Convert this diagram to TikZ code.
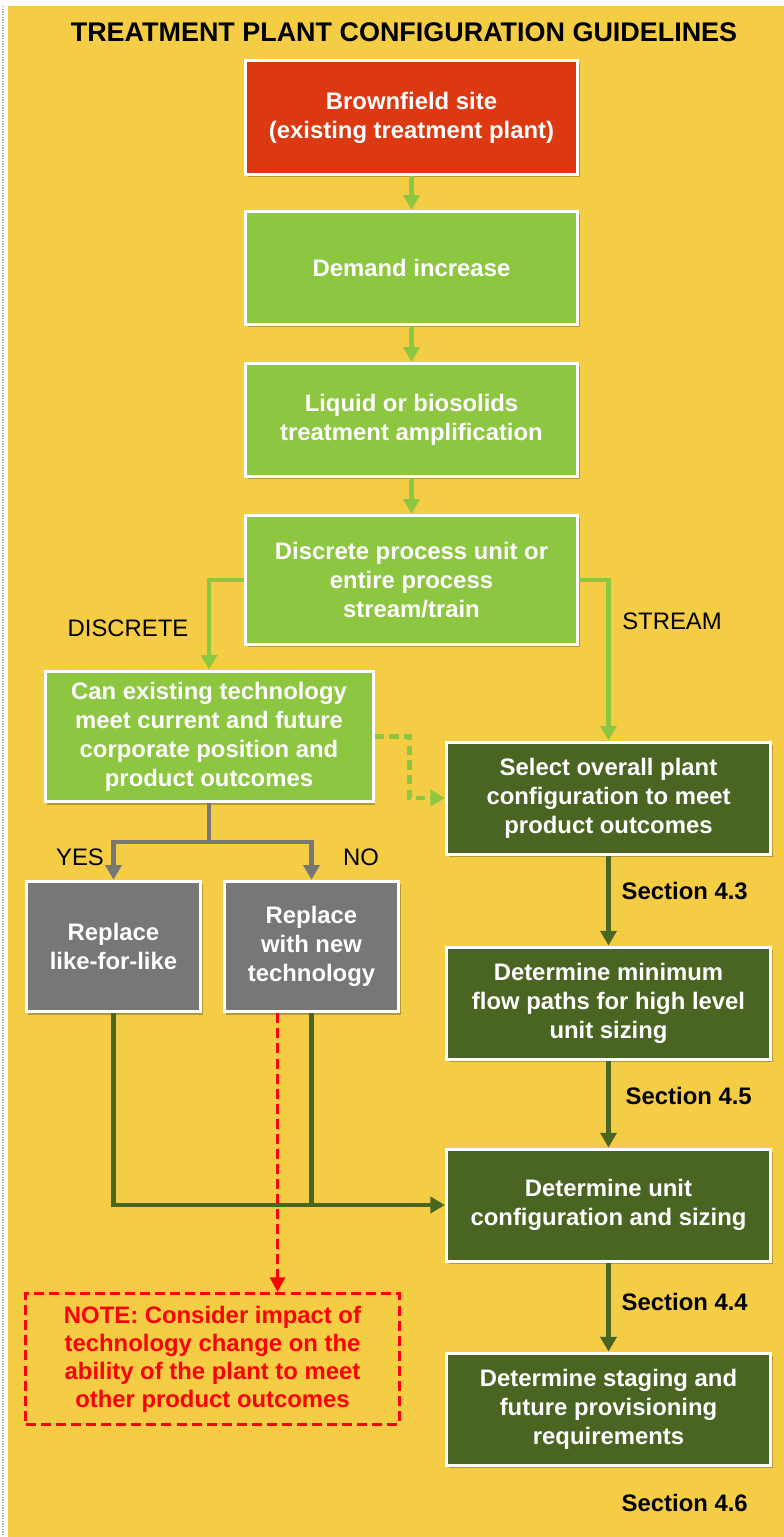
\documentclass[tikz,border=0pt]{standalone}
\usepackage{fontspec}
\setmainfont{Liberation Sans}
\usepackage{tikz}
\usetikzlibrary{calc}
\usetikzlibrary{shadows}
\usetikzlibrary{arrows.meta}
\usepackage{xcolor}
\definecolor{myYellow}{HTML}{F5CD45}
\definecolor{myRed}{HTML}{DC3812}
\definecolor{myGreen}{HTML}{8DC641}
\definecolor{myDarkGreen}{HTML}{4A6422}
\definecolor{myGrey}{HTML}{777777}
\definecolor{myShadow}{HTML}{6B5A1E}
\definecolor{myNote}{HTML}{FF0000}

\tikzset{
  box/.style={
    rectangle, draw=white, line width=2.25pt, text=white, align=center,
    inner sep=0pt, font=\bfseries\fontsize{17.9}{21.8}\selectfont,
    drop shadow={shadow xshift=1.5pt, shadow yshift=-2pt, opacity=.45, fill=myShadow}
  },
  mainbox/.style={box, fill=myGreen, minimum width=249pt, minimum height=85pt},
  rightbox/.style={box, fill=myDarkGreen, minimum width=243pt, minimum height=84pt},
  greybox/.style={box, fill=myGrey, minimum width=131pt, minimum height=98pt},
  notebox/.style={
    rectangle, draw=myNote, line width=2.4pt, dash pattern=on 7.5pt off 3.8pt,
    text=myNote, align=center, inner sep=0pt, minimum width=280pt, minimum height=98pt,
    font=\bfseries\fontsize{17.9}{21}\selectfont
  },
  choicetext/.style={font=\fontsize{17.9}{21}\selectfont},
  sectiontext/.style={font=\bfseries\fontsize{17.9}{21}\selectfont, anchor=west},
  tip/.style={-{Triangle[width=12pt, length=11pt]}},
  lightflow/.style={tip, draw=myGreen, line width=3.2pt},
  darkflow/.style={tip, draw=myDarkGreen, line width=3.2pt},
  greyflow/.style={tip, draw=myGrey, line width=3.2pt},
  dashflow/.style={lightflow, dash pattern=on 7pt off 4pt},
  noteflow/.style={-{Triangle[width=11pt, length=11pt]}, draw=myNote, line width=2.5pt, dash pattern=on 7.5pt off 3.8pt},
}

\begin{document}
\begin{tikzpicture}[x=0.75pt, y=-0.75pt]

%%%%%%%%%%%%%%%%%%%%%%%%%%%%%%%%%%%%%%%%%%%%%%%%%%%%%%%%%%%%%% Setup
\useasboundingbox (0,0) rectangle (784,1537);
\fill[white] (0,0) rectangle (784,1537);
\fill[myYellow] (8,6) rectangle (784,1537);
\draw[black!30, line width=2.2pt, dash pattern=on 1pt off 1pt] (3,6) -- (3,1537);

\node[font=\bfseries\fontsize{20.2}{24}\selectfont] (title) at (404,32) {TREATMENT PLANT CONFIGURATION GUIDELINES};

%%%%%%%%%%%%%%%%%%%%%%%%%%%%%%%%%%%%%%%%%%%%%%%%%%%%%%%%%%%%%% Centre column
\node[mainbox, fill=myRed] (brown) at (411.5,117.5) {Brownfield site\\(existing treatment plant)};
\node[mainbox] (demand) at (411.5,268) {Demand increase};
\node[mainbox] (liquid) at (411.5,420) {Liquid or biosolids\\treatment amplification};
\node[mainbox, minimum height=97pt] (discrete) at (411.5,580) {Discrete process unit or\\entire process\\stream/train};

\draw[lightflow] (brown) -- (demand);
\draw[lightflow] (demand) -- (liquid);
\draw[lightflow] (liquid) -- (discrete);

%%%%%%%%%%%%%%%%%%%%%%%%%%%%%%%%%%%%%%%%%%%%%%%%%%%%%%%%%%%%%% Discrete branch
\node[mainbox, minimum width=246pt, minimum height=98pt] (can) at (209,736.5) {Can existing technology\\meet current and future\\corporate position and\\product outcomes};
\node[greybox] (like) at (113.5,946.5) {Replace\\like-for-like};
\node[greybox] (newtech) at (311.5,946.5) {Replace\\with new\\technology};
\node[notebox] (note) at (212.5,1359) {NOTE: Consider impact of\\technology change on the\\ability of the plant to meet\\other product outcomes};

\node[choicetext] (discretelbl) at (128,628) {DISCRETE};
\node[choicetext] (yes) at (80,857) {YES};
\node[choicetext] (no) at (361,857) {NO};

\draw[lightflow] (discrete.west) -| (can.north);
\coordinate (split) at ($(can.south)+(0,39)$);
\draw[myGrey, line width=3.2pt] (can.south) -- (split);
\draw[greyflow] (split) -| (like.north);
\draw[greyflow] (split) -| (newtech.north);

\coordinate (redstart) at ($(newtech.south)+(-34,0)$);
\draw[noteflow] (redstart) -- (redstart |- note.north);

%%%%%%%%%%%%%%%%%%%%%%%%%%%%%%%%%%%%%%%%%%%%%%%%%%%%%%%%%%%%%% Stream branch
\node[rightbox] (select) at (608.5,798) {Select overall plant\\configuration to meet\\product outcomes};
\node[rightbox] (minpath) at (608.5,1003) {Determine minimum\\flow paths for high level\\unit sizing};
\node[rightbox] (unitcfg) at (608.5,1205) {Determine unit\\configuration and sizing};
\node[rightbox] (staging) at (608.5,1409) {Determine staging and\\future provisioning\\requirements};

\node[choicetext] (streamlbl) at (672,621) {STREAM};
\node[sectiontext] (sec43) at (617,891) {Section 4.3};
\node[sectiontext] (sec45) at (621,1096) {Section 4.5};
\node[sectiontext] (sec44) at (617,1302) {Section 4.4};
\node[sectiontext] (sec46) at (617,1503) {Section 4.6};

\draw[lightflow] (discrete.east) -| (select.north);
\draw[dashflow] (can.east) -- ++(35,0) |- (select.west);

\draw[darkflow] (select) -- (minpath);
\draw[darkflow] (minpath) -- (unitcfg);
\draw[darkflow] (unitcfg) -- (staging);

\draw[darkflow] (like.south) |- (unitcfg.west);
\draw[myDarkGreen, line width=3.2pt] (newtech.south) -- (newtech.south |- unitcfg.west);

\end{tikzpicture}
\end{document}
